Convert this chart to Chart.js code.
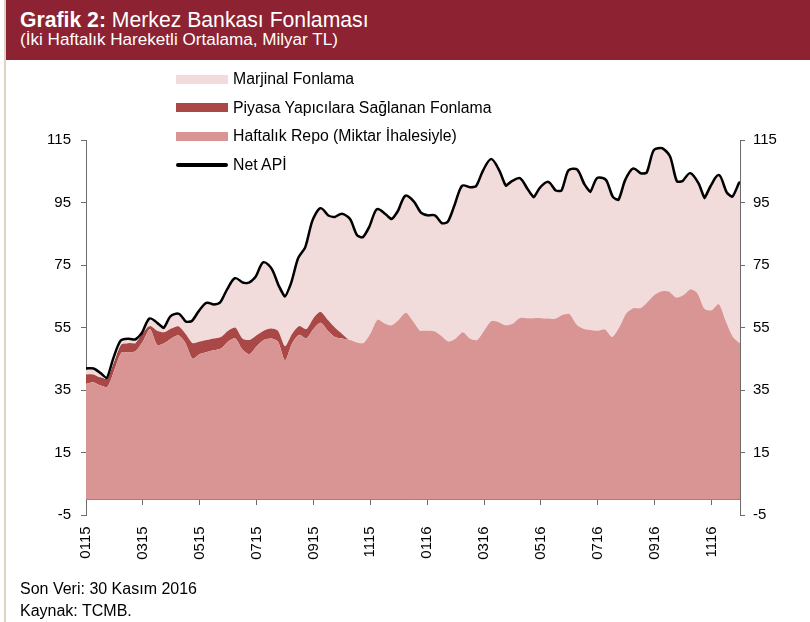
<!DOCTYPE html>
<html>
<head>
<meta charset="utf-8">
<script src="https://cdn.jsdelivr.net/npm/chart.js@4.4.0/dist/chart.umd.min.js"></script>
<style>
  body { margin:0; background:#fff; font-family:"Liberation Sans", Arial, sans-serif; }
  #wrap { position:relative; width:810px; height:622px; overflow:hidden; background:#fff; }
  #head { position:absolute; left:6px; top:0; width:804px; height:60px; background:#8C2232; color:#fff; }
  #head div { position:absolute; left:14px; line-height:1; white-space:nowrap; }
  #edge { position:absolute; left:4px; top:0; width:2px; height:622px; background:#DCD3C5; }
  #legend { position:absolute; left:176px; top:65px; font-size:15.8px; color:#000; }
  .row { height:28.5px; display:flex; align-items:center; }
  .sw { width:52px; height:9px; margin-right:5px; }
  .sw.ln { height:4px; border-radius:2px; }
  .foot { position:absolute; left:20px; font-size:16px; line-height:1; }
  canvas { position:absolute; left:0; top:0; }
</style>
</head>
<body>
<div id="wrap">
  <div id="edge"></div>
  <div id="head">
    <div style="top:9px;font-size:21.2px;"><b>Grafik 2:</b> Merkez Bankası Fonlaması</div>
    <div style="top:30.5px;font-size:17.1px;">(İki Haftalık Hareketli Ortalama, Milyar TL)</div>
  </div>
  <canvas id="fonlama" width="810" height="622"></canvas>
  <div id="legend"></div>
  <div class="foot" style="top:580.5px;">Son Veri: 30 Kasım 2016</div>
  <div class="foot" style="top:602.5px;">Kaynak: TCMB.</div>
</div>
<script>
// x ekseni etiketleri (ay/yil), her 2 ayda bir
var monthLabels = ['0115','0315','0515','0715','0915','1115','0116','0316','0516','0716','0916','1116'];

// noktalar ~haftalik (1/4 ay adim), Ocak 2015 - Kasim 2016 sonu
var repo = [37, 37.5, 36.5, 36, 41.5, 47, 47, 47.5, 50.5, 54.5,
  49.5, 50, 51.5, 52.5, 50, 45, 46.5, 47.2, 47.7, 48.3,
  50.5, 51.5, 48, 46.5, 49, 51, 51.5, 50.5, 44.5, 50,
  52.7, 51.5, 54.5, 56.5, 54, 52, 51.5, 51, 50.3, 50,
  53, 57.5, 56.3, 55.7, 57.5, 59.7, 57, 54, 54, 53.8,
  52.3, 50.5, 51.5, 53.5, 51.5, 51, 54, 57, 56.8, 55.7,
  56.2, 58, 58, 58, 58, 57.9, 57.8, 59, 59.3, 56,
  54.6, 54.2, 54, 54.4, 52, 55, 59.5, 61.2, 61.2, 63.2,
  65.5, 66.6, 66.5, 64.6, 65.3, 67.2, 66, 61, 60.5, 62.5,
  57, 52, 50];

var piyasa = [3, 2.5, 2.5, 2.5, 2.5, 2.5, 3, 2.5, 2.5, 1,
  4.5, 3.5, 3.2, 2.9, 3, 5, 4, 3.8, 3.8, 3.7,
  3.5, 3.5, 3.5, 4.5, 3.5, 3, 3.2, 3.5, 4.5, 3,
  2.8, 3, 3.5, 3.5, 3.5, 3, 1.5, 0, 0, 0,
  0, 0, 0, 0, 0, 0, 0, 0, 0, 0,
  0, 0, 0, 0, 0, 0, 0, 0, 0, 0,
  0, 0, 0, 0, 0, 0, 0, 0, 0, 0,
  0, 0, 0, 0, 0, 0, 0, 0, 0, 0,
  0, 0, 0, 0, 0, 0, 0, 0, 0, 0,
  0, 0, 0];

var marjinal = [1.5, 1.5, 1, 0, 1, 1, 1, 0.8, 0, 2,
  2, 1, 3.6, 3.6, 3.5, 6.8, 9.5, 11.5, 10.5, 10.8,
  13, 15.4, 17.5, 18, 18.5, 21.5, 18.8, 14, 15.5, 16,
  21.5, 26, 31, 32.8, 33, 35, 38, 38.5, 34, 33.5,
  34, 35, 34.7, 33.6, 34.5, 37.1, 38, 37.5, 36.5, 36.7,
  35.7, 38, 42.5, 46.5, 48, 49, 51, 51.5, 48.2, 44.3,
  45.3, 44.4, 41, 38.3, 41.5, 43.3, 40.7, 39.5, 45.7, 49.2,
  45.9, 43.8, 48.5, 47.6, 44.5, 40.5, 42.5, 44.3, 42.8, 41.1,
  46, 45.4, 43.1, 36.9, 36.2, 36.8, 35, 35, 39.5, 40.9,
  41, 44.5, 51];

var netApi = [41.5, 41.5, 40, 38.2, 45, 50.5, 51, 50.8, 53, 57.5,
  56, 54.5, 58.3, 59, 56.5, 56.8, 60, 62.5, 62, 62.8,
  67, 70.4, 69, 69, 71, 75.5, 73.5, 68, 64.5, 69,
  77, 80.5, 89, 92.8, 90.5, 90, 91, 89.5, 84.3, 83.5,
  87, 92.5, 91, 89.3, 92, 96.8, 95, 91.5, 90.5, 90.5,
  88, 88.5, 94, 100, 99.5, 100, 105, 108.5, 105, 100,
  101.5, 102.4, 99, 96.3, 99.5, 101.2, 98.5, 98.5, 105, 105.2,
  100.5, 98, 102.5, 102, 96.5, 95.5, 102, 105.5, 104, 104.3,
  111.5, 112, 109.6, 101.5, 101.5, 104, 101, 96, 100, 103.4,
  98, 96.5, 101];

function pts(arr){
  return arr.map(function(v, i){ return {x: i / 4, y: v}; });
}

Chart.defaults.font.family = '"Liberation Sans", Arial, sans-serif';
Chart.defaults.font.size = 15;
Chart.defaults.color = '#000';

var axisGrey = '#6b6b6b';

var ctx = document.getElementById('fonlama').getContext('2d');
var chart = new Chart(ctx, {
  type: 'line',
  data: {
    datasets: [
      { label: 'Haftalık Repo (Miktar İhalesiyle)', data: pts(repo), backgroundColor: '#D99594', borderColor: '#D99594', borderWidth: 0, fill: 'origin', stack: 'fon' },
      { label: 'Piyasa Yapıcılara Sağlanan Fonlama', data: pts(piyasa), backgroundColor: '#A94846', borderColor: '#A94846', borderWidth: 0, fill: '-1', stack: 'fon' },
      { label: 'Marjinal Fonlama', data: pts(marjinal), backgroundColor: '#F2DCDB', borderColor: '#F2DCDB', borderWidth: 0, fill: '-1', stack: 'fon' },
      { label: 'Net APİ', data: pts(netApi), borderColor: '#000', backgroundColor: '#000', borderWidth: 5, fill: false, stack: 'net', borderJoinStyle: 'round', borderCapStyle: 'round' }
    ]
  },
  options: {
    responsive: false,
    animation: false,
    layout: { padding: { top: 140, bottom: 107, left: 0, right: 0 } },
    elements: {
      point: { radius: 0, hoverRadius: 0 },
      line: { tension: 0.25 }
    },
    plugins: { legend: { display: false }, tooltip: { enabled: false } },
    scales: {
      x: {
        type: 'linear', min: 0, max: 23, position: { y: 0 },
        afterBuildTicks: function(s){ s.ticks = monthLabels.map(function(l, i){ return {value: i * 2}; }); },
        ticks: { autoSkip: false, minRotation: 90, maxRotation: 90, padding: 22,
                 callback: function(v){ return monthLabels[v / 2]; } },
        grid: { drawOnChartArea: false, tickLength: 5, color: axisGrey },
        border: { color: axisGrey }
      },
      y: {
        stacked: true, min: -5, max: 115,
        ticks: { stepSize: 20, padding: 10 },
        grid: { drawOnChartArea: false, tickLength: 5, color: axisGrey },
        border: { color: axisGrey },
        afterFit: function(s){ s.width = 86; }
      },
      y2: {
        position: 'right', min: -5, max: 115,
        ticks: { stepSize: 20, padding: 8 },
        grid: { drawOnChartArea: false, tickLength: 5, color: axisGrey },
        border: { color: axisGrey },
        afterFit: function(s){ s.width = 70; }
      }
    }
  }
});

// LEGEND (dikey liste, grafik icinde)
var order = [2, 1, 0, 3];
var lg = document.getElementById('legend');
order.forEach(function(k){
  var ds = chart.data.datasets[k];
  var row = document.createElement('div');
  row.className = 'row';
  var sw = document.createElement('div');
  if (ds.fill === false) {
    sw.className = 'sw ln';
    sw.style.background = ds.borderColor;
  } else {
    sw.className = 'sw';
    sw.style.background = ds.backgroundColor;
  }
  var tx = document.createElement('span');
  tx.textContent = ds.label;
  row.appendChild(sw);
  row.appendChild(tx);
  lg.appendChild(row);
});
</script>
</body>
</html>
